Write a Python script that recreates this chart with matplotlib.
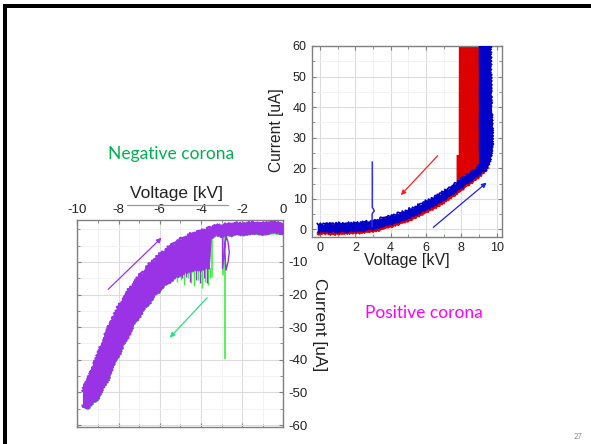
import matplotlib
matplotlib.use("Agg")
import matplotlib.pyplot as plt
from matplotlib.ticker import MultipleLocator
from matplotlib.lines import Line2D
from matplotlib.patches import Rectangle

plt.rcParams["axes.unicode_minus"] = False

# ---------------- data: positive corona ----------------
pos_v = [-0.15, 0.25, 0.5, 0.75, 1.0, 1.25, 1.5, 1.75, 2.0, 2.25, 2.5, 2.75, 3.0, 3.25,
         3.5, 3.75, 4.0, 4.25, 4.5, 4.75, 5.0, 5.25, 5.5, 5.75, 6.0, 6.25, 6.5, 6.75,
         7.0, 7.25, 7.5, 7.75, 8.0, 8.25, 8.5, 8.75, 9.0, 9.25, 9.5]
blue_upper = [1.9, 1.6, 2.1, 1.7, 2.1, 1.8, 2.2, 1.9, 2.3, 2.1, 2.6, 2.4, 3.0, 3.0,
              3.8, 3.8, 4.6, 4.7, 5.5, 5.7, 6.6, 6.9, 7.9, 8.2, 9.3, 9.7, 10.8, 11.3,
              12.5, 13.2, 14.5, 15.2, 16.6, 17.3, 18.6, 19.4, 20.9, 22.0, 24.3]
blue_lower = [-0.9, -0.6, -1.0, -0.6, -0.9, -0.5, -0.8, -0.4, -0.6, -0.2, -0.4, 0.1, 0.0, 0.6,
              0.7, 1.4, 1.6, 2.3, 2.5, 3.3, 3.6, 4.5, 4.9, 5.9, 6.3, 7.3, 7.8, 8.9,
              9.5, 10.8, 11.5, 12.8, 13.6, 14.9, 15.6, 17.0, 17.9, 19.5, 21.1]
red_lower = [-1.5, -1.4, -1.4, -1.7, -1.3, -1.5, -1.2, -1.3, -1.1, -1.1, -0.9, -0.8, -0.6, -0.4,
             0.0, 0.5, 0.8, 1.4, 1.8, 2.4, 2.8, 3.5, 4.2, 4.9, 5.5, 6.3, 7.0, 7.9,
             8.7, 9.8, 10.7, 11.8, 12.8, 14.0, 14.9, 16.1, 17.2, 18.6, 20.3]
# red breakdown block (decreasing sweep)
red_blk_v = [7.70, 7.82, 7.83, 9.00]
red_blk_top = [24.5, 24.5, 62.0, 62.0]
red_blk_bottom = [13.5, 14.0, 14.0, 17.0]
# blue breakdown block (increasing sweep)
blue_blk_i = [19, 22, 25, 28, 30, 35, 40, 45, 50, 55, 62]
blue_blk_left = [8.98, 8.97, 8.96, 8.95, 8.96, 8.95, 8.96, 8.95, 8.96, 8.95, 8.95]
blue_blk_right = [9.35, 9.60, 9.70, 9.76, 9.76, 9.74, 9.70, 9.68, 9.67, 9.66, 9.65]
# blue glitch near 3 kV
glitch_v = [2.95, 2.95, 2.98, 3.07, 3.02, 2.96, 2.96]
glitch_i = [1.0, 5.0, 5.4, 6.0, 6.7, 7.1, 22.0]
pos_xticks = [0, 2, 4, 6, 8, 10]
pos_yticks = [0, 10, 20, 30, 40, 50, 60]

# ---------------- data: negative corona ----------------
neg_v = [-9.75, -9.5, -9.25, -9.0, -8.75, -8.5, -8.25, -8.0, -7.75, -7.5, -7.25, -7.0,
         -6.75, -6.5, -6.25, -6.0, -5.75, -5.5, -5.25, -5.0, -4.75, -4.5, -4.25, -4.0,
         -3.75, -3.6, -3.5, -3.25, -3.0, -2.75, -2.5, -2.25, -2.0, -1.5, -1.0, -0.5, 0.0]
neg_upper = [-49.5, -46.0, -42.5, -38.0, -34.5, -30.0, -27.0, -23.5, -21.5, -18.5, -16.8, -14.2,
             -12.8, -10.6, -9.4, -7.5, -6.6, -5.0, -4.4, -3.0, -2.6, -1.4, -1.1, -0.3,
             -0.2, 0.6, 0.5, 1.2, 1.0, 1.6, 1.4, 1.9, 1.6, 2.0, 1.7, 2.1, 1.8]
neg_lower = [-54.0, -55.0, -53.0, -52.0, -48.5, -46.0, -41.5, -39.0, -35.0, -32.5, -28.8, -27.0,
             -24.0, -22.8, -20.0, -19.0, -16.8, -16.2, -14.5, -14.2, -13.0, -13.0, -12.2, -12.4,
             -11.5, -12.0, -2.6, -1.6, -2.2, -1.4, -1.9, -1.2, -1.7, -1.1, -1.5, -1.0, -1.3]
green_spike_v = [-5.15, -4.95, -4.8, -4.65, -4.5, -4.35, -4.15, -3.95, -3.8, -3.65, -3.55]
green_spike_lo = [-16.0, -15.5, -17.0, -15.0, -16.5, -17.5, -15.5, -18.0, -16.0, -17.0, -15.0]
purple_spike_v = [-4.9, -4.7, -4.55, -4.25, -4.05, -3.85, -3.7]
purple_spike_lo = [-15.0, -14.5, -16.0, -15.5, -16.5, -15.0, -16.5]
green_line_v = [-3.47, -2.92, -2.81]
green_line_top = [-1.5, -1.2, -1.2]
green_line_lo = [-14.5, -14.0, -39.6]
loop_v = [-2.95, -2.95, -2.78, -2.86, -2.78, -2.68, -2.62, -2.68, -2.78]
loop_i = [-1.0, -12.0, -2.0, -6.0, -12.5, -10.0, -7.0, -4.0, -2.0]
neg_xticks = [-10, -8, -6, -4, -2, 0]
neg_yticks = [-10, -20, -30, -40, -50, -60]

# ---------------- figure ----------------
W, H = 591, 444
fig = plt.figure(figsize=(W / 100, H / 100), dpi=100)
fig.patch.set_facecolor("white")
CF = "Liberation Sans"
SKETCH = (1.2, 3.0, 2.0)   # jagged rendering of noisy trace edges

def fx(x): return x / W
def fy(y): return 1 - y / H

def jag(ax, x, y, **kw):
    line, = ax.plot(x, y, **kw)
    line.set_sketch_params(*SKETCH)
    return line

# slide border
fig.add_artist(Rectangle((fx(3), fy(8)), 1 - fx(3), (8 - 4) / H, transform=fig.transFigure,
                         facecolor="black", edgecolor="none"))
fig.add_artist(Rectangle((fx(3), 0), (7 - 3) / W, fy(4), transform=fig.transFigure,
                         facecolor="black", edgecolor="none"))

PURPLE = "#9a32e6"
GREEN = "#3cf03c"
RED = "#dd0000"
BLUE = "#0000c8"
SPINE = "#808080"

def style_axes(ax):
    ax.xaxis.set_minor_locator(MultipleLocator(1))
    ax.yaxis.set_minor_locator(MultipleLocator(5))
    ax.grid(True, which="major", color="#dcdcdc", lw=0.8)
    ax.grid(True, which="minor", color="#f0f0f0", lw=0.6)
    ax.set_axisbelow(True)
    for s in ax.spines.values():
        s.set_color(SPINE)
        s.set_linewidth(1.0)

# ---------- negative corona axes ----------
axn = fig.add_axes([fx(77.3), fy(426.7), (283.3 - 77.3) / W, (426.7 - 220) / H])
axn.set_xlim(-10, 0)
axn.set_ylim(-60.5, 2.85)
axn.xaxis.tick_top()
axn.yaxis.tick_right()
axn.set_xticks(neg_xticks)
axn.set_yticks(neg_yticks)
style_axes(axn)
axn.tick_params(which="both", direction="in", length=3, color=SPINE,
                top=True, bottom=True, left=True, right=True,
                labeltop=True, labelbottom=False, labelleft=False, labelright=True)
axn.tick_params(which="minor", length=2)
axn.tick_params(axis="x", pad=3.0, labelsize=9.5, labelcolor="#222222")
axn.tick_params(axis="y", pad=3.4, labelsize=9.5, labelcolor="#222222")
for lab in axn.get_xticklabels() + axn.get_yticklabels():
    lab.set_fontfamily(CF)

# green traces (decreasing sweep) under purple
axn.fill_between(neg_v, neg_upper, [l - 0.4 for l in neg_lower],
                 color=GREEN, lw=0, zorder=2)
jag(axn, neg_v[:26], neg_lower[:26], color=GREEN, lw=1.4, zorder=2)
axn.vlines(green_spike_v, -12, green_spike_lo, color=GREEN, lw=1.0, zorder=2)
axn.vlines(green_line_v, green_line_top, green_line_lo, color=GREEN, lw=1.2, zorder=2)
# purple traces (increasing sweep)
axn.fill_between(neg_v, neg_upper, neg_lower, color=PURPLE, lw=0, zorder=3)
jag(axn, neg_v, neg_upper, color=PURPLE, lw=1.6, zorder=3)
jag(axn, neg_v[:26], neg_lower[:26], color=PURPLE, lw=1.2, zorder=3)
jag(axn, neg_v[26:], neg_lower[26:], color=PURPLE, lw=1.2, zorder=3)
axn.vlines(purple_spike_v, -11.5, purple_spike_lo, color=PURPLE, lw=1.0, zorder=3)
axn.plot(loop_v, loop_i, color=PURPLE, lw=1.0, zorder=3)
axn.annotate("", xy=(-5.91, -2.6), xytext=(-8.5, -18.4),
             arrowprops=dict(arrowstyle="-|>", color="#9b30ff", lw=0.9,
                             mutation_scale=7, shrinkA=0, shrinkB=0), zorder=4)
axn.annotate("", xy=(-5.51, -33.2), xytext=(-3.7, -21.0),
             arrowprops=dict(arrowstyle="-|>", color="#2de07e", lw=0.9,
                             mutation_scale=7, shrinkA=0, shrinkB=0), zorder=4)

# ---------- positive corona axes ----------
axp = fig.add_axes([fx(311.7), fy(236.7), (502 - 311.7) / W, (236.7 - 46) / H])
axp.set_zorder(5)
axp.set_xlim(-0.47, 10.3)
axp.set_ylim(-2.4, 60)
axp.set_xticks(pos_xticks)
axp.set_yticks(pos_yticks)
style_axes(axp)
axp.tick_params(which="both", direction="in", length=3, color=SPINE,
                top=True, bottom=True, left=True, right=True)
axp.tick_params(which="minor", length=2)
axp.tick_params(axis="both", pad=3.6, labelsize=9, labelcolor="#222222")
for lab in axp.get_xticklabels() + axp.get_yticklabels():
    lab.set_fontfamily(CF)

axp.fill_between(pos_v, blue_upper, red_lower, color=RED, lw=0, zorder=2)
jag(axp, pos_v, red_lower, color=RED, lw=1.0, zorder=2)
axp.fill_between(red_blk_v, red_blk_bottom, red_blk_top, color=RED, lw=0, zorder=2)
axp.fill_between(pos_v, blue_upper, blue_lower, color=BLUE, lw=0, zorder=3)
jag(axp, pos_v, blue_upper, color=BLUE, lw=1.2, zorder=3)
jag(axp, pos_v, blue_lower, color=BLUE, lw=0.8, zorder=3)
axp.fill_betweenx(blue_blk_i, blue_blk_left, blue_blk_right, color=BLUE, lw=0, zorder=3)
jag(axp, blue_blk_right, blue_blk_i, color=BLUE, lw=1.0, zorder=3)
axp.plot(glitch_v, glitch_i, color="#3030e0", lw=1.1, zorder=3)
axp.annotate("", xy=(4.57, 11.2), xytext=(6.66, 24.1),
             arrowprops=dict(arrowstyle="-|>", color="#ff2020", lw=0.9,
                             mutation_scale=7, shrinkA=0, shrinkB=0), zorder=4)
axp.annotate("", xy=(9.43, 15.3), xytext=(6.41, 0.65),
             arrowprops=dict(arrowstyle="-|>", color="#2020ee", lw=0.9,
                             mutation_scale=7, shrinkA=0, shrinkB=0), zorder=4)

# ---------- axis titles (placed as text) ----------
fig.text(fx(406.7), fy(260), "Voltage [kV]", ha="center", va="center",
         fontsize=11.5, family=CF, color="#222222")
fig.text(fx(277), fy(130), "Current [uA]", ha="center", va="center", rotation=90,
         fontsize=11.2, family=CF, color="#222222")
fig.text(fx(177), fy(193), "Voltage [kV]", ha="center", va="center",
         fontsize=12.5, family=CF, color="#222222")
fig.add_artist(Line2D([fx(127), fx(228)], [fy(205), fy(205)], transform=fig.transFigure,
                      color="#999999", lw=0.9))
fig.text(fx(320), fy(325), "Current [uA]", ha="center", va="center", rotation=270,
         fontsize=12.4, family=CF, color="#222222")

# ---------- slide captions ----------
fig.text(fx(171.5), fy(154), "Negative corona", ha="center", va="center",
         fontsize=12.5, family="Lato", color="#00b050")
fig.text(fx(423.5), fy(313), "Positive corona", ha="center", va="center",
         fontsize=12.5, family="Lato", color="#ff00ff")
fig.text(fx(578), fy(436), "27", ha="center", va="center",
         fontsize=5.5, family="Lato", color="#8c8c8c")

fig.savefig("out.png", dpi=100)
